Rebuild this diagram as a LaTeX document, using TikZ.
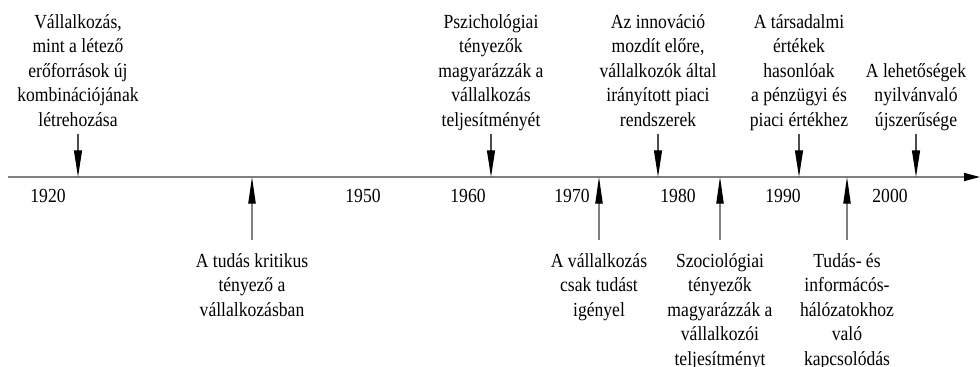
\documentclass[tikz,border=0pt]{standalone}
\usepackage{fontspec}
\setmainfont{Liberation Serif}[FakeStretch=0.88]
\usetikzlibrary{arrows.meta}

\begin{document}
\begin{tikzpicture}[x=0.75pt,y=-0.75pt,
  every node/.style={font=\fontsize{15}{18.4}\selectfont,inner sep=0pt},
  toptext/.style={anchor=south,align=center},
  bottext/.style={anchor=north,align=center,outer sep=7.5pt},
  year/.style={anchor=base},
  downarrow/.style={draw=black!70,line width=0.8pt,-{Triangle[length=20pt,width=6pt,black]}},
  uparrow/.style={draw=gray,line width=0.8pt,-{Triangle[length=20pt,width=5.5pt,black]}}]
  \useasboundingbox (0,0) rectangle (980,367);
  \coordinate (ax0) at (8,177);
  \coordinate (ax1) at (980,177);
  \draw[gray,line width=1.2pt,-{Triangle[length=12pt,width=6pt,black]}] (ax0) -- (ax1);

  % years
  \node[year] (y1920) at (48,202) {1920};
  \node[year] (y1950) at (363,202) {1950};
  \node[year] (y1960) at (468,202) {1960};
  \node[year] (y1970) at (572,202) {1970};
  \node[year] (y1980) at (678,202) {1980};
  \node[year] (y1990) at (783,202) {1990};
  \node[year] (y2000) at (890,202) {2000};

  % above the axis
  \node[toptext] (t1) at (78,134) {Vállalkozás,\\mint a létező\\erőforrások új\\kombinációjának\\létrehozása\strut};
  \node[toptext] (t2) at (491,134) {Pszichológiai\\tényezők\\magyarázzák a\\vállalkozás\\teljesítményét\strut};
  \node[toptext] (t3) at (658,134) {Az innováció\\mozdít előre,\\vállalkozók által\\irányított piaci\\rendszerek\strut};
  \node[toptext] (t4) at (799,134) {A társadalmi\\értékek\\hasonlóak\\a pénzügyi és\\piaci értékhez\strut};
  \node[toptext] (t5) at (916,134) {A lehetőségek\\nyilvánvaló\\újszerűsége\strut};

  % below the axis
  \node[bottext] (b1) at (252,240) {A tudás kritikus\strut\\tényező a\\vállalkozásban};
  \node[bottext] (b2) at (599,240) {A vállalkozás\strut\\csak tudást\\igényel};
  \node[bottext] (b3) at (720,240) {Szociológiai\strut\\tényezők\\magyarázzák a\\vállalkozói\\teljesítményt};
  \node[bottext] (b4) at (847,240) {Tudás- és\strut\\informácós-\\hálózatokhoz\\való\\kapcsolódás};

  \foreach \n in {t1,t2,t3,t4,t5}
    \draw[downarrow] (\n) -- (\n |- ax0);
  \foreach \n in {b1,b2,b3,b4}
    \draw[uparrow] (\n) -- (\n |- ax0);
\end{tikzpicture}
\end{document}
